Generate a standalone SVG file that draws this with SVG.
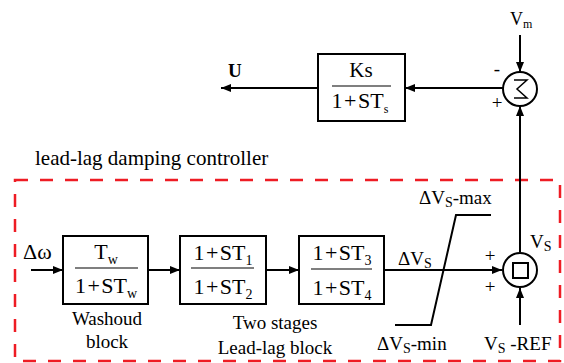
<svg xmlns="http://www.w3.org/2000/svg" width="564" height="363" viewBox="0 0 564 363" font-family="'Liberation Serif', 'Times New Roman', 'DejaVu Serif', serif">
<defs>
<marker id="arr" viewBox="0 0 10 8" refX="10" refY="4" markerWidth="10" markerHeight="8" markerUnits="userSpaceOnUse" orient="auto">
<path d="M0,0 L10,4 L0,8 z" fill="#000"/>
</marker>
</defs>
<style>
text{font-family:'Liberation Serif','Times New Roman','DejaVu Serif',serif;fill:#000}
.box{fill:#fff;stroke:#000;stroke-width:2}
.frac{stroke:#555;stroke-width:1.5}
.sum{fill:#fff;stroke:#000;stroke-width:2}
.wire{fill:none;stroke:#000;stroke-width:2}
.arrow{fill:none;stroke:#000;stroke-width:2;marker-end:url(#arr)}
.f{font-size:22px}
.sub{font-size:14px}
.lbl{font-size:19px}
.sign{font-size:19px}
</style>
<rect width="564" height="363" fill="#fff"/>

<text x="35" y="165" font-size="21">lead-lag damping controller</text>
<rect x="15" y="180" width="545" height="181" fill="none" stroke="#ee1c24" stroke-width="2.5" stroke-dasharray="13 12"/>

<g id="connectors">
<path class="arrow" d="M31,270 H63"/>
<path class="arrow" d="M148,270 H180"/>
<path class="arrow" d="M266,270 H299"/>
<path class="arrow" d="M384,270 H502"/>
<path class="arrow" d="M520,325 V288"/>
<path class="arrow" d="M520,252 V106"/>
<path class="arrow" d="M520,35 V72"/>
<path class="arrow" d="M503,88 H405"/>
<path class="arrow" d="M318,88 H221"/>
<path class="wire" d="M395,325 H431 L456,215 H491"/>
</g>

<g id="input">
<text x="23" y="259" font-size="22">Δω</text>
</g>

<g id="washout">
<rect class="box" x="63" y="236" width="85" height="68"/>
<line class="frac" x1="75" y1="268" x2="138" y2="268"/>
<text x="106" y="259" class="f" text-anchor="middle">T<tspan class="sub" dy="5">w</tspan></text>
<text x="106" y="293" class="f" text-anchor="middle">1<tspan dx="1.5">+</tspan><tspan dx="1.5">ST</tspan><tspan class="sub" dy="5">w</tspan></text>
<text x="107" y="325" class="lbl" text-anchor="middle">Washoud</text>
<text x="107" y="348" class="lbl" text-anchor="middle">block</text>
</g>

<g id="leadlag1">
<rect class="box" x="180" y="236" width="86" height="68"/>
<line class="frac" x1="191" y1="268" x2="254" y2="268"/>
<text x="223" y="260" class="f" text-anchor="middle">1<tspan dx="1.5">+</tspan><tspan dx="1.5">ST</tspan><tspan class="sub" dy="5">1</tspan></text>
<text x="223" y="294" class="f" text-anchor="middle">1<tspan dx="1.5">+</tspan><tspan dx="1.5">ST</tspan><tspan class="sub" dy="5">2</tspan></text>
<text x="275" y="329" class="lbl" text-anchor="middle">Two stages</text>
<text x="275" y="354" class="lbl" text-anchor="middle">Lead-lag block</text>
</g>

<g id="leadlag2">
<rect class="box" x="299" y="236" width="85" height="68"/>
<line class="frac" x1="311" y1="269" x2="372" y2="269"/>
<text x="342" y="260" class="f" text-anchor="middle">1<tspan dx="1.5">+</tspan><tspan dx="1.5">ST</tspan><tspan class="sub" dy="5">3</tspan></text>
<text x="342" y="295" class="f" text-anchor="middle">1<tspan dx="1.5">+</tspan><tspan dx="1.5">ST</tspan><tspan class="sub" dy="5">4</tspan></text>
</g>

<g id="limiter">
<text x="398" y="265" class="lbl">ΔV<tspan class="sub" dy="3">S</tspan></text>
<text x="419" y="204" class="lbl">ΔV<tspan class="sub" dy="3">S</tspan><tspan dy="-3">-max</tspan></text>
<text x="377" y="350" class="lbl">ΔV<tspan class="sub" dy="3">S</tspan><tspan dy="-3">-min</tspan></text>
</g>

<g id="sum2">
<circle class="sum" cx="520" cy="270" r="17"/>
<rect x="513" y="263" width="15" height="15" fill="none" stroke="#000" stroke-width="2"/>
<text x="490" y="262" class="sign" text-anchor="middle">+</text>
<text x="490" y="293" class="sign" text-anchor="middle">+</text>
<text x="530" y="248" class="lbl">V<tspan class="sub" dy="3">S</tspan></text>
<text x="484" y="350" class="lbl">V<tspan class="sub" dy="3">S</tspan><tspan dy="-3"> -REF</tspan></text>
</g>

<g id="sum1">
<circle class="sum" cx="520" cy="89" r="17"/>
<path d="M514,80 H527 L517,89 L527,98 H514" fill="none" stroke="#000" stroke-width="1.5"/>
<text x="497" y="75" class="sign" text-anchor="middle">-</text>
<text x="497" y="109" class="sign" text-anchor="middle">+</text>
<text x="510" y="25" font-size="18">V<tspan font-size="12" dy="3">m</tspan></text>
</g>

<g id="gain">
<rect class="box" x="318" y="54" width="87" height="67"/>
<line class="frac" x1="332" y1="86" x2="391" y2="86"/>
<text x="361" y="77" font-size="21" text-anchor="middle">Ks</text>
<text x="360" y="108" class="f" text-anchor="middle">1<tspan dx="1.5">+</tspan><tspan dx="1.5">ST</tspan><tspan font-size="12" dy="5">s</tspan></text>
</g>

<g id="output">
<text x="228" y="77" font-size="19" font-weight="bold">U</text>
</g>
</svg>
